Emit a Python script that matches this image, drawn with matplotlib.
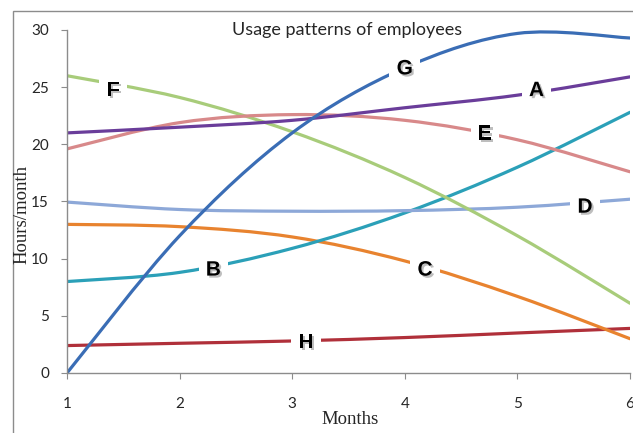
import matplotlib
matplotlib.use("Agg")
import matplotlib.pyplot as plt
import matplotlib.patheffects as pe
from matplotlib.path import Path
from matplotlib.patches import PathPatch, Rectangle

# --- data ---
months = [1, 2, 3, 4, 5, 6]
series_a = [21.0, 21.5, 22.1, 23.2, 24.3, 25.9]
series_b = [8.0, 8.8, 10.9, 14.0, 18.0, 22.8]
series_c = [13.0, 12.8, 11.9, 9.8, 6.7, 3.0]
series_d = [14.95, 14.3, 14.15, 14.2, 14.5, 15.2]
series_e = [19.6, 21.9, 22.6, 22.1, 20.4, 17.6]
series_f = [26.0, 24.1, 21.1, 17.1, 12.0, 6.1]
series_g = [0.0, 12.0, 21.0, 26.7, 29.7, 29.3]
series_h = [2.4, 2.6, 2.8, 3.1, 3.5, 3.9]
names = ["A", "B", "C", "D", "E", "F", "G", "H"]
y_ticks = [0, 5, 10, 15, 20, 25, 30]

# --- style ---
COLORS = {
    "A": "#6A3D9A", "B": "#2BA0B8", "C": "#E8832F", "D": "#8DA8D8",
    "E": "#D8898A", "F": "#A8CC7A", "G": "#3A6DB5", "H": "#B0303A",
}
# inline label anchors (data coords)
LABEL_POS = {
    "A": (5.17, 24.7), "B": (2.30, 9.0), "C": (4.18, 9.0), "D": (5.60, 14.5),
    "E": (4.71, 20.9), "F": (1.41, 24.7), "G": (4.00, 26.6), "H": (3.12, 2.65),
}
COL_AXIS = "#8C8C8C"
COL_TEXT = "#262626"


def smooth_path(xs, ys):
    # Excel-style smoothed line: cubic bezier through points (Catmull-Rom, tension 1/6)
    pts = list(zip(xs, ys))
    verts = [pts[0]]
    codes = [Path.MOVETO]
    n = len(pts)
    for i in range(n - 1):
        p0 = pts[i - 1] if i > 0 else pts[i]
        p1 = pts[i]
        p2 = pts[i + 1]
        p3 = pts[i + 2] if i + 2 < n else pts[i + 1]
        c1 = (p1[0] + (p2[0] - p0[0]) / 6, p1[1] + (p2[1] - p0[1]) / 6)
        c2 = (p2[0] - (p3[0] - p1[0]) / 6, p2[1] - (p3[1] - p1[1]) / 6)
        verts += [c1, c2, p2]
        codes += [Path.CURVE4] * 3
    return Path(verts, codes)


W, H = 633, 433
fig = plt.figure(figsize=(W / 100, H / 100), dpi=100, facecolor="white")
ax = fig.add_axes([67 / W, 60 / H, 563 / W, 343 / H])

data = dict(zip(names, [series_a, series_b, series_c, series_d,
                        series_e, series_f, series_g, series_h]))
for name in ["H", "C", "B", "D", "F", "E", "A", "G"]:
    patch = PathPatch(smooth_path(months, data[name]), fill=False,
                      edgecolor=COLORS[name], lw=2.3, capstyle="round",
                      transform=ax.transData, zorder=2)
    ax.add_patch(patch)

for name in names:
    lx, ly = LABEL_POS[name]
    ax.text(lx, ly, name, ha="center", va="center", fontsize=15,
            fontweight="bold", family="Liberation Sans", color="black",
            bbox=dict(boxstyle="square,pad=0.35", fc="white", ec="none"),
            path_effects=[pe.withSimplePatchShadow(offset=(1.5, -1.5),
                                                   shadow_rgbFace="#8a8a8a", alpha=0.55)],
            zorder=5)

ax.set_xlim(1, 6)
ax.set_ylim(0, 30)
ax.set_xticks(months)
ax.set_yticks(y_ticks)
for s in ["top", "right"]:
    ax.spines[s].set_visible(False)
for s in ["left", "bottom"]:
    ax.spines[s].set_color(COL_AXIS)
    ax.spines[s].set_linewidth(1.0)
ax.tick_params(axis="both", direction="out", length=4, color=COL_AXIS, labelcolor=COL_TEXT)
ax.tick_params(axis="x", pad=13)
ax.tick_params(axis="y", pad=9)
for lab in ax.get_xticklabels() + ax.get_yticklabels():
    lab.set_family("Lato")
    lab.set_fontsize(11)

fig.text(22 / W, 1 - 215 / H, "Hours/month", rotation=90, ha="center", va="center",
         family="Liberation Serif", fontsize=13.5, color=COL_TEXT)
fig.text(350 / W, 1 - 419 / H, "Months", ha="center", va="center",
         family="Liberation Serif", fontsize=13.5, color=COL_TEXT)
fig.text(347 / W, 1 - 30 / H, "Usage patterns of employees", ha="center", va="center",
         family="Lato", fontsize=13, color=COL_TEXT)

# chart frame
fig.patches.append(Rectangle((13 / W, -0.05), 1.0, 1 - 11 / H + 0.05, transform=fig.transFigure,
                             fill=False, edgecolor=COL_AXIS, lw=1.0))

fig.savefig("out.png", dpi=100, facecolor="white")
